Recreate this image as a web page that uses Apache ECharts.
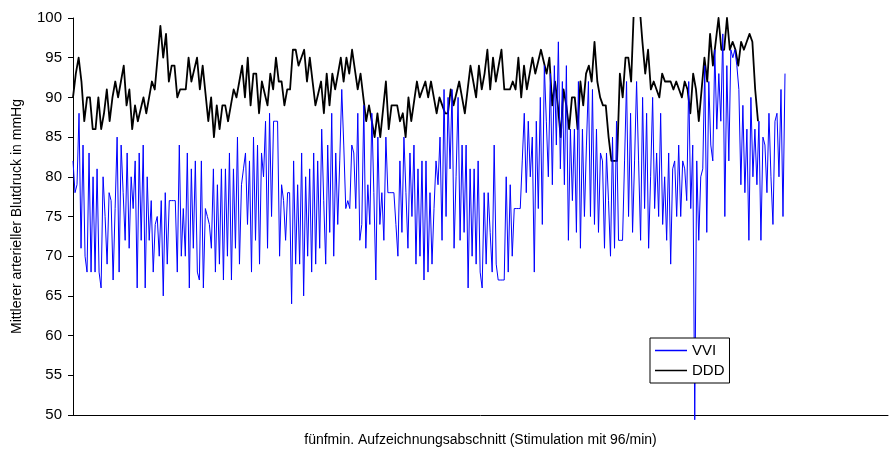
<!DOCTYPE html>
<html><head><meta charset="utf-8">
<script src="https://cdn.jsdelivr.net/npm/echarts@6/dist/echarts.min.js"></script>
<style>html,body{margin:0;padding:0;background:#fff}#c{width:890px;height:452px}</style>
</head><body><div id="c"></div>
<script>
const seriesNames = ['VVI', 'DDD'];
const xTitle = 'fünfmin. Aufzeichnungsabschnitt (Stimulation mit 96/min)';
const yTitle = 'Mittlerer arterieller Blutdruck in mmHg';
const yMin = 50, yMax = 100, yStep = 5;

const vvi = [
82,78,79,88,71,84,70,68,83,68,80,68,81,68,66,80,75,69,78,77,67,76,85,68,84,78,72,83,71,80,76,82,66,83,72,84,66,80,72,77,68,74,75,70,77,65,78,69,77,77,77,77,68,84,70,76,70,83,66,81,71,82,68,67,82,66,76,75,74,71,81,68,79,69,81,67,81,70,83,67,81,71,85,69,79,81,83,74,82,68,85,72,84,69,83,80,87,71,88,75,87,87,87,70,79,77,72,78,78,64,82,69,79,69,
83,65,80,70,81,68,83,69,82,71,86,77,69,84,73,88,70,83,74,82,91,84,76,77,76,84,83,76,88,72,74,89,71,79,74,88,78,67,85,74,
78,72,85,78,78,78,78,74,70,82,73,85,78,71,83,75,84,69,81,70,82,67,82,68,78,69,76,82,79,85,72,91,75,90,81,91,71,80,90,72,84,73,84,66,81,70,81,69,82,68,66,78,
69,78,73,68,84,69,67,67,67,67,80,68,79,70,76,76,76,76,82,88,78,87,80,85,68,87,76,90,74,94,87,80,93,79,94,84,97,81,92,79,94,72,86,77,86,73,92,71,
86,75,84,92,75,91,74,86,73,83,82,71,83,77,70,85,71,87,72,72,72,82,92,75,88,73,82,92,82,72,90,76,88,71,80,90,76,83,75,88,74,80,72,83,69,81,82,75,84,75,
82,81,77,92,76,84,49.4,82,72,80,81,94,73,92,84,82,96,86,93,87,98,75,94,82,96,95,96,94,91,79,89,78,86,72,90,80,86,79,87,72,85,84,78,88,80,74,87,88,80,91,75,93
];

const ddd = [
90,93,95,92,87,90,90,86,86,90,86,88,91,87,90,92,90,92,94,89,91,86,89,87,88.5,90,88,90,92,91,95,99,95,98,92,94,94,90,91,91,91,95,92,93.5,95,91,94,90.5,87,90,85,89,86,89,89,87,89,91,90,92,94,90,95,89,93,93,88,92,90.5,89,93,91,95,92,92,89,91,91,96,96,94,
95,96,92,95,92,89,90.5,92,88,93,89,93,91,93,95,92,95,93,96,93.5,91,93,90,87,89,87,85,88,
85,88.5,92,86,89,89,89,87,88,85,90,87,89.5,92,90,91,92,90,92,90,88,90,89,88,88,91,89,90.5,92,90,88,91,94,92,90,94,91,
93,96,91,95,92,94,96,91,91,91,92,91,95,90,94,91,93,95,93,94.5,96,94.5,93,95,89,92,89,85,91,89,86,90,90,86,92,
89,93,94,92,97,92,90,89,89,85,82,82,82,93,90,95,95,92,101.5,103,101.5,97,93,96,91,92,91,90,93,92,92,92,91,92,91,90,92,
91,88,93,91,87,91,95,92,98,94,97,100,96,96,100,96,97,96,94,97,96,97,98,97,91,87
];

// share of the horizontal axis covered by each recording
const vviShare = 712 / 815, dddShare = 685 / 815;
const FONT = "'Liberation Sans', Arial, sans-serif";

const chart = echarts.init(document.getElementById('c'), null, {renderer: 'canvas'});
chart.setOption({
  animation: false,
  backgroundColor: '#fff',
  grid: {left: 73, right: 2, top: 18, bottom: 37},
  xAxis: [
    {type: 'value', min: 0, max: (vvi.length - 1) / vviShare,
     axisLine: {show: true, onZero: false, lineStyle: {color: '#000', width: 1}},
     axisTick: {show: false}, axisLabel: {show: false}, splitLine: {show: false},
     name: xTitle, nameLocation: 'middle', nameGap: 18,
     nameTextStyle: {fontFamily: FONT, fontSize: 14, color: '#000'}},
    {type: 'value', min: 0, max: (ddd.length - 1) / dddShare, show: false,
     splitLine: {show: false}}
  ],
  yAxis: {
    type: 'value', min: yMin, max: yMax, interval: yStep,
    axisLine: {show: true, lineStyle: {color: '#000', width: 1}},
    axisTick: {show: true, length: 5, lineStyle: {color: '#000'}},
    axisLabel: {fontFamily: FONT, fontSize: 15, color: '#000', margin: 11},
    splitLine: {show: false},
    name: yTitle, nameLocation: 'middle', nameGap: 49,
    nameTextStyle: {fontFamily: FONT, fontSize: 14, color: '#000'}
  },
  legend: {
    data: seriesNames, orient: 'vertical', left: 650, top: 338,
    backgroundColor: '#fff', borderColor: '#000', borderWidth: 1, borderRadius: 0,
    padding: [5, 5, 5, 5], itemGap: 5, itemWidth: 32, itemHeight: 1.5, itemTextGap: 4,
    icon: 'rect',
    textStyle: {fontFamily: FONT, fontSize: 15, color: '#000'}
  },
  series: [
    {name: 'DDD', type: 'line', xAxisIndex: 1, data: ddd.map((v, i) => [i, v]),
     symbol: 'none', clip: true,
     lineStyle: {color: '#000', width: 1.8, join: 'round'}, itemStyle: {color: '#000'}},
    {name: 'VVI', type: 'line', xAxisIndex: 0, data: vvi.map((v, i) => [i, v]),
     symbol: 'none', clip: false,
     lineStyle: {color: '#0000ff', width: 1}, itemStyle: {color: '#0000ff'}}
  ]
});
</script></body></html>
